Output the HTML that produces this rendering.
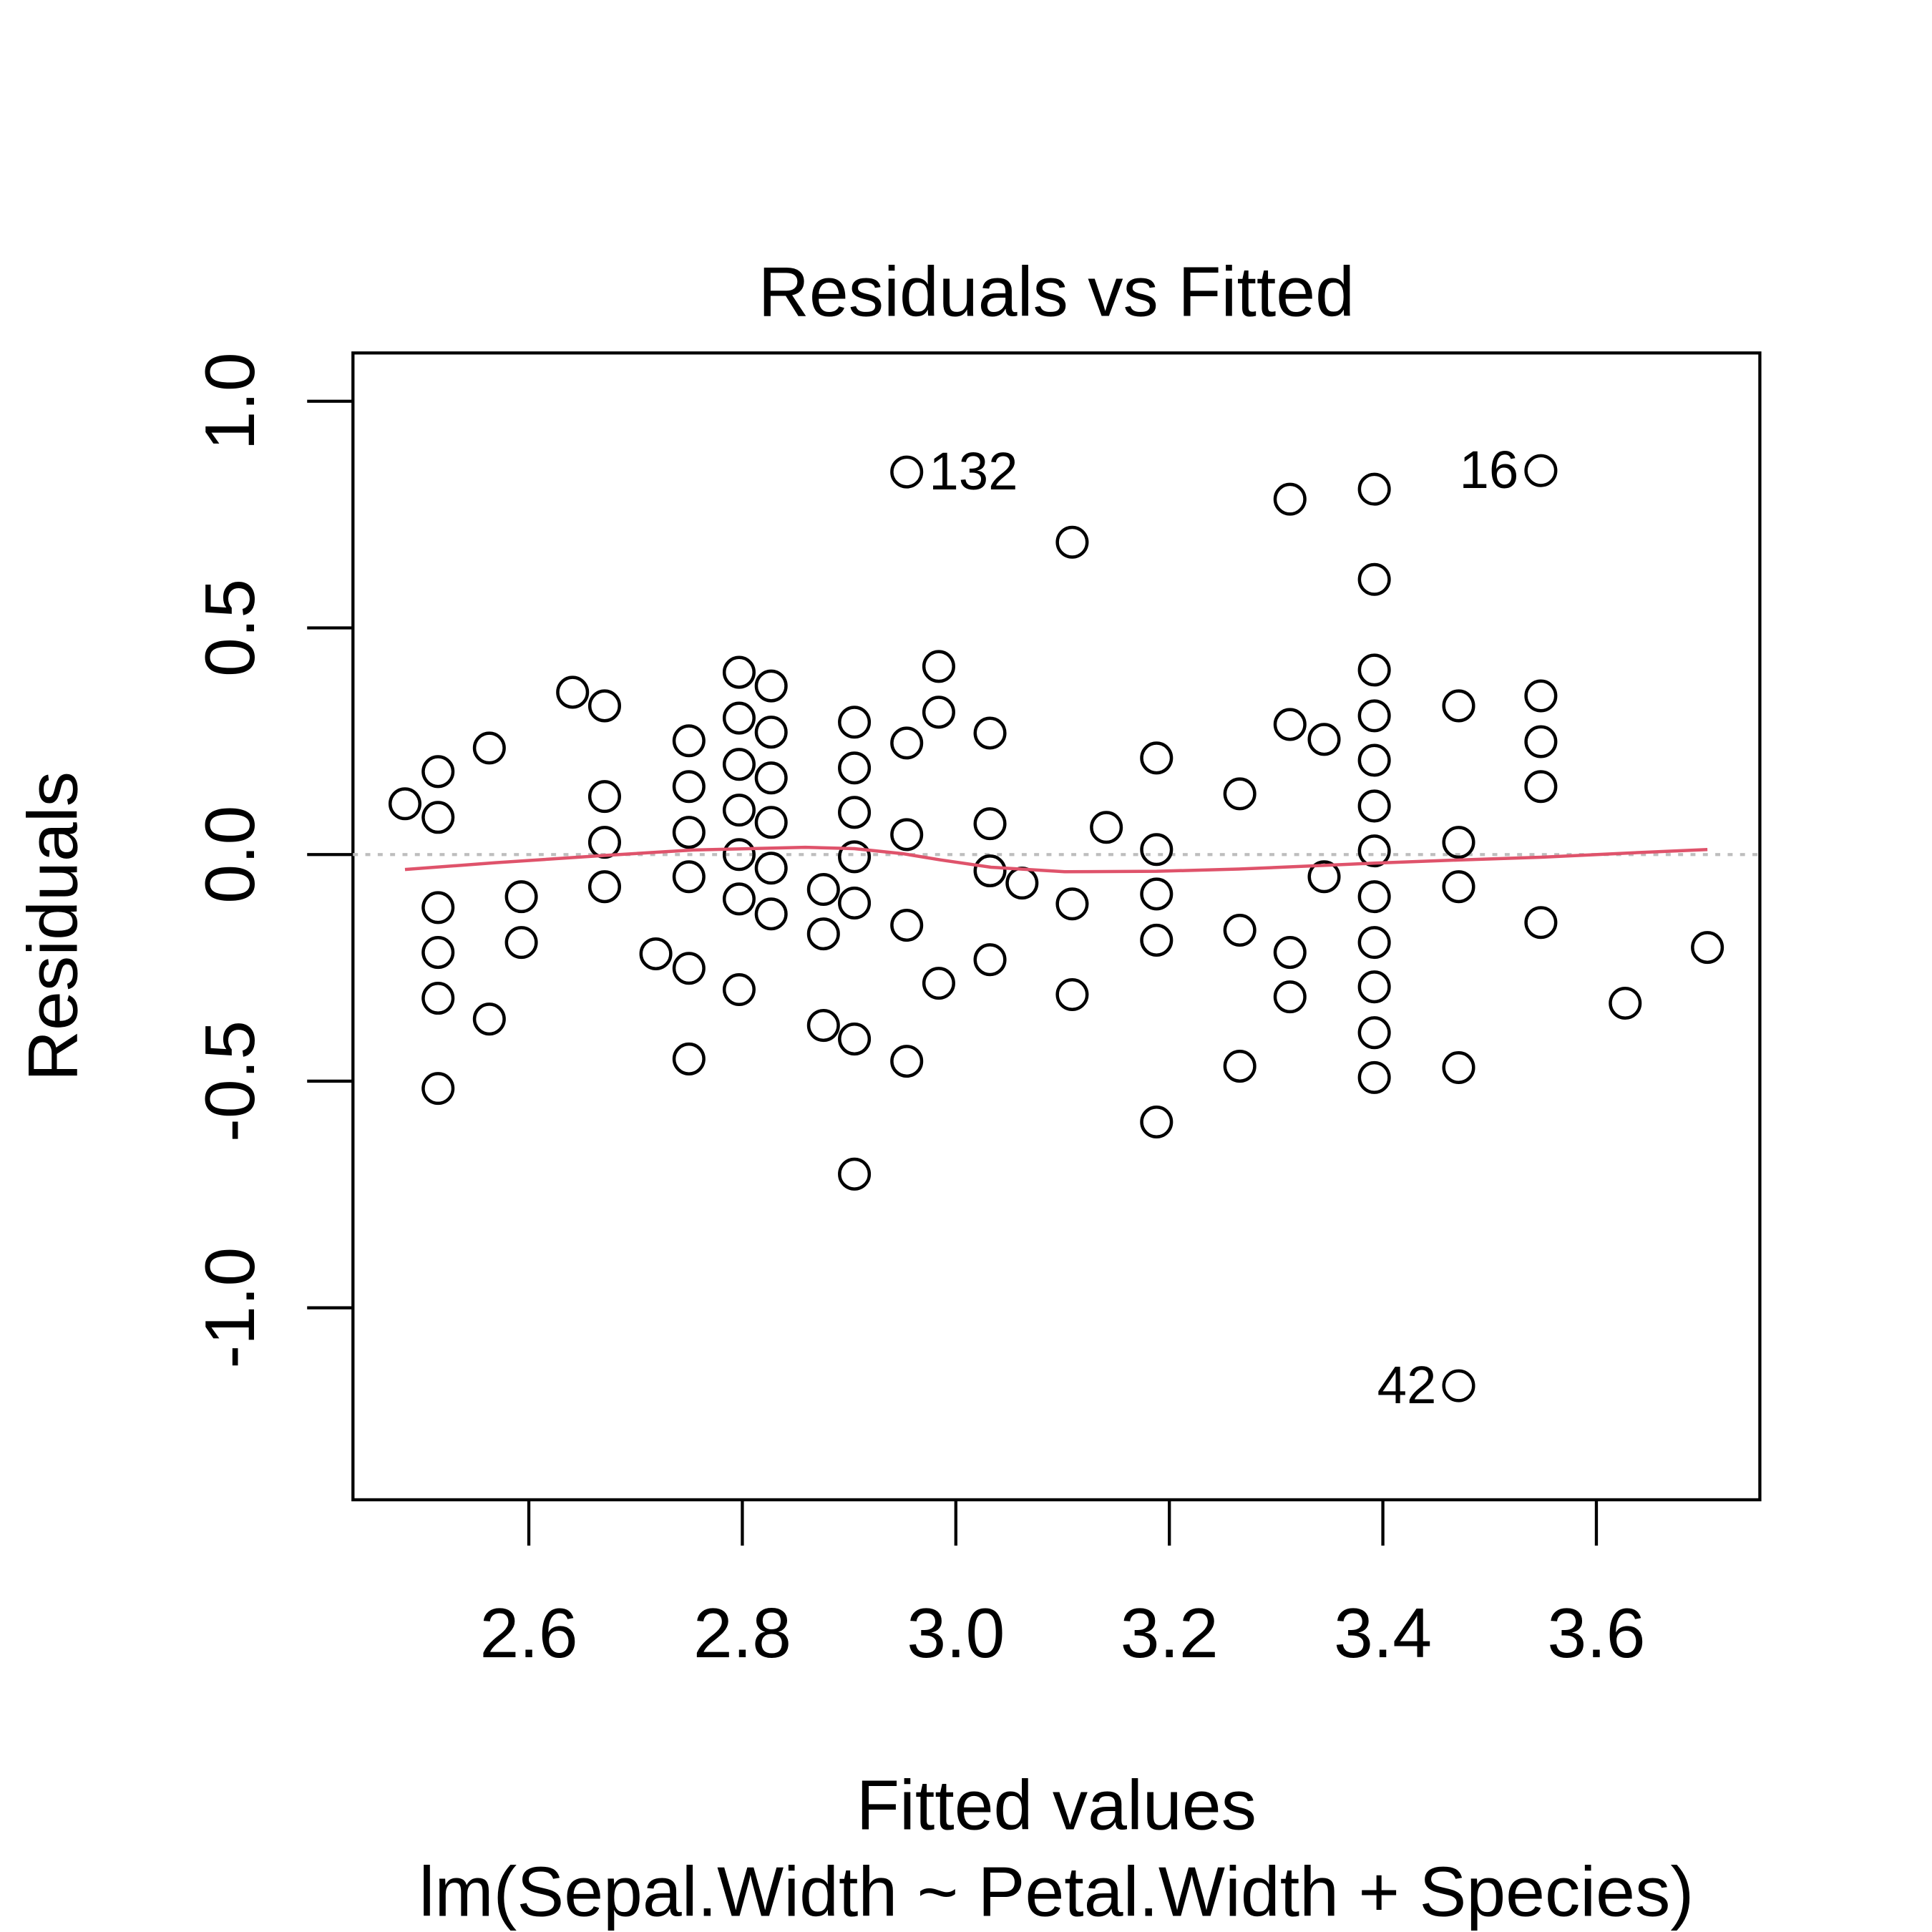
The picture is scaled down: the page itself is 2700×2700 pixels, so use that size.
<!DOCTYPE html>
<html><head><meta charset="utf-8"><style>html,body{margin:0;padding:0;background:#fff}svg{display:block}</style></head>
<body>
<svg id="chart" width="2700" height="2700" viewBox="0 0 1560 1560" xmlns="http://www.w3.org/2000/svg" font-family="'Liberation Sans', Arial, sans-serif">
<rect width="1560" height="1560" fill="#fff"/>
<text x="853" y="255" font-size="57" text-anchor="middle">Residuals vs Fitted</text>
<rect x="285" y="285" width="1136" height="926" fill="none" stroke="#000" stroke-width="2.5"/>
<g id="axes"></g>
<g id="marks"></g>
<text x="853" y="1477" font-size="57" text-anchor="middle">Fitted values</text>
<text x="853" y="1547" font-size="57" text-anchor="middle">lm(Sepal.Width ~ Petal.Width + Species)</text>
<text transform="translate(62,748) rotate(-90)" font-size="57" text-anchor="middle">Residuals</text>
</svg>
<script>
const fitted = [2.484,2.515,2.515,2.515,2.515,2.515,2.515,2.563,2.563,2.593,2.593,2.641,2.671,2.671,2.671,2.671,2.719,2.750,2.750,2.750,2.750,2.750,2.750,2.797,2.797,2.797,2.797,2.797,2.797,2.797,2.827,2.827,2.827,2.827,2.827,2.827,2.876,2.876,2.876,2.905,2.905,2.905,2.905,2.905,2.905,2.905,2.954,2.954,2.954,2.954,2.954,2.984,2.984,2.984,3.032,3.032,3.032,3.032,3.062,3.109,3.109,3.109,3.141,3.188,3.188,3.188,3.188,3.188,3.266,3.266,3.266,3.313,3.313,3.313,3.313,3.345,3.345,3.392,3.392,3.392,3.392,3.392,3.392,3.392,3.392,3.392,3.392,3.392,3.392,3.471,3.471,3.471,3.471,3.471,3.548,3.548,3.548,3.548,3.548,3.627,3.704];
const residuals = [0.112,0.183,0.082,-0.117,-0.216,-0.317,-0.516,0.235,-0.363,-0.093,-0.194,0.358,0.328,0.128,0.027,-0.071,-0.219,0.251,0.150,0.049,-0.049,-0.251,-0.451,0.402,0.301,0.199,0.098,0,-0.098,-0.298,0.372,0.270,0.169,0.071,-0.030,-0.131,-0.077,-0.175,-0.377,0.292,0.191,0.093,-0.005,-0.107,-0.407,-0.705,0.844,0.246,0.044,-0.156,-0.456,0.415,0.314,-0.284,0.268,0.068,-0.036,-0.232,-0.063,0.689,-0.109,-0.309,0.060,0.213,0.011,-0.087,-0.189,-0.590,0.134,-0.167,-0.467,0.784,0.287,-0.216,-0.314,0.254,-0.049,0.806,0.607,0.407,0.306,0.208,0.107,0.008,-0.093,-0.194,-0.292,-0.393,-0.492,0.328,0.027,-0.071,-0.470,-1.172,0.847,0.350,0.249,0.150,-0.150,-0.328,-0.205];
const smoothX = [2.484,2.569,2.671,2.754,2.859,2.905,2.950,2.986,3.033,3.102,3.188,3.265,3.345,3.392,3.471,3.548,3.627,3.704];
const smoothY = [-0.033,-0.018,-0.002,0.010,0.016,0.013,0.002,-0.012,-0.028,-0.038,-0.037,-0.032,-0.024,-0.019,-0.012,-0.006,0.003,0.011];
const xTicks = [2.6,2.8,3.0,3.2,3.4,3.6];
const xTickLabels = ["2.6","2.8","3.0","3.2","3.4","3.6"];
const yTicks = [1.0,0.5,0.0,-0.5,-1.0];
const yTickLabels = ["1.0","0.5","0.0","-0.5","-1.0"];
const outlierIdx = [46,94,93];
const outlierLabels = ["132","16","42"];

const NS="http://www.w3.org/2000/svg";
const X=v=>427+(v-2.6)*862;
const Y=v=>690-v*366;
function mk(tag,attrs,parent){const e=document.createElementNS(NS,tag);for(const k in attrs)e.setAttribute(k,attrs[k]);parent.appendChild(e);return e;}
const axes=document.getElementById('axes'), marks=document.getElementById('marks');

xTicks.forEach((t,i)=>{
  const tk=mk('line',{x1:X(t),x2:X(t),y1:1211,y2:1248,stroke:'#000','stroke-width':2.5},axes);
  
  
  const tx=mk('text',{x:X(t),y:1338,'font-size':57,'text-anchor':'middle'},axes);
  tx.textContent=xTickLabels[i];
  
  
});
yTicks.forEach((t,i)=>{
  const tk=mk('line',{x1:248,x2:285,y1:Y(t),y2:Y(t),stroke:'#000','stroke-width':2.5},axes);
  
  
  const tx=mk('text',{transform:`translate(205,${Y(t)}) rotate(-90)`,'font-size':57,'text-anchor':'middle'},axes);
  tx.textContent=yTickLabels[i];
  
  
});
const zl=mk('line',{x1:285,x2:1421,y1:Y(0),y2:Y(0),stroke:'#bebebe','stroke-width':2.5,'stroke-dasharray':'4 6'},marks);


fitted.forEach((f,i)=>{
  const c=mk('circle',{cx:X(f),cy:Y(residuals[i]),r:12,fill:'none',stroke:'#000','stroke-width':2.6},marks);
  
  
});
const sm=mk('polyline',{points:smoothX.map((x,i)=>X(x)+','+Y(smoothY[i])).join(' '),fill:'none',stroke:'#DF536B','stroke-width':2.6,'stroke-linejoin':'round'},marks);


outlierIdx.forEach((idx,i)=>{
  const px=X(fitted[idx]), py=Y(residuals[idx]);
  const right = i===0;
  const tx=mk('text',{x:right?px+18:px-18,y:py+14,'font-size':43,'text-anchor':right?'start':'end'},marks);
  tx.textContent=outlierLabels[i];
  
  
});
</script>
</body></html>
